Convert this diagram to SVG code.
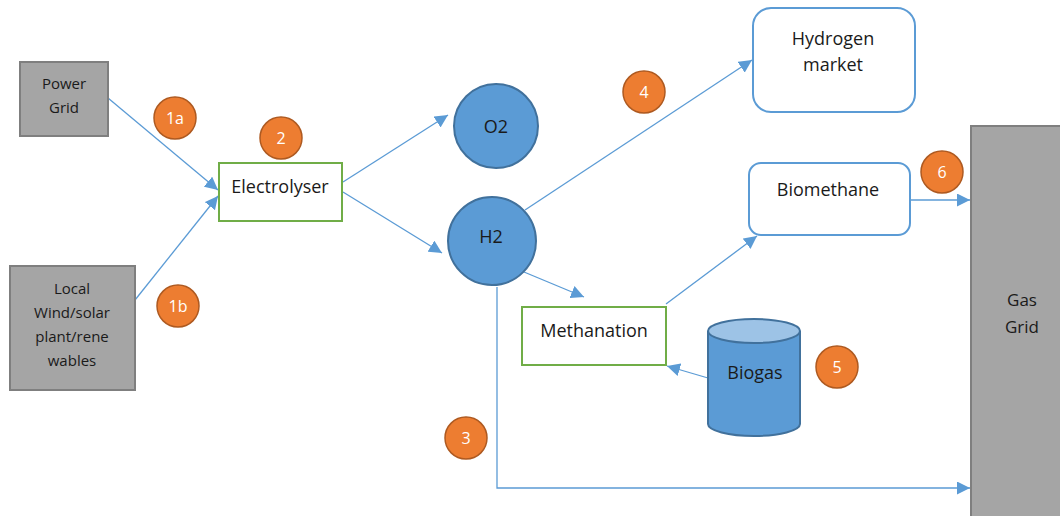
<svg xmlns="http://www.w3.org/2000/svg" width="1060" height="516" viewBox="0 0 1060 516">
<style>
text{font-family:"Open Sans","Liberation Sans",sans-serif;font-size:18px;fill:#1a1a1a;text-anchor:middle;dominant-baseline:central}
text.sm{font-size:15px}
.gray{fill:#A5A5A5;stroke:#7F7F7F;stroke-width:2}
.green{fill:#fff;stroke:#70AD47;stroke-width:2}
.blue{fill:#fff;stroke:#5B9BD5;stroke-width:2}
.ball{fill:#5B9BD5;stroke:#41719C;stroke-width:2}
.badge circle{fill:#ED7D31;stroke:#AE5A21;stroke-width:1.5}
.badge text{fill:#fff;font-size:16px}
.conn path{fill:none;stroke:#5B9BD5;stroke-width:1.3;marker-end:url(#ah)}
</style>
<defs>
<marker id="ah" viewBox="0 0 10 10" refX="10" refY="5" markerWidth="13" markerHeight="13" markerUnits="userSpaceOnUse" orient="auto">
<path d="M0,0 L10,5 L0,10 z" fill="#5B9BD5"/>
</marker>
</defs>
<rect width="1060" height="516" fill="#fff"/>
<g class="conn">
<path d="M108,98 L218,190"/>
<path d="M135,300 L218,196"/>
<path d="M343,182 L448,115"/>
<path d="M343,192 L442,253"/>
<path d="M525,210 L752,60"/>
<path d="M524,272 L584,297"/>
<path d="M666,304 L757,236"/>
<path d="M910,200 L970,200"/>
<path d="M708,378 L667,366"/>
<path d="M497,287 L497,488 L970,488"/>
</g>
<g id="power-grid"><rect class="gray" x="20" y="62" width="88" height="74"/><text class="sm" x="64" y="83">Power</text><text class="sm" x="64" y="107">Grid</text></g>
<g id="local"><rect class="gray" x="10" y="266" width="125" height="124"/><text class="sm" x="72" y="288">Local</text><text class="sm" x="72" y="312">Wind/solar</text><text class="sm" x="72" y="336">plant/rene</text><text class="sm" x="72" y="360">wables</text></g>
<g id="electrolyser"><rect class="green" x="219" y="163" width="123" height="58"/><text x="280" y="186">Electrolyser</text></g>
<g id="o2"><circle class="ball" cx="496" cy="126" r="42"/><text x="496" y="126">O2</text></g>
<g id="h2"><circle class="ball" cx="492" cy="241" r="44"/><text x="491" y="236">H2</text></g>
<g id="hydrogen-market"><rect class="blue" x="753" y="8" width="162" height="104" rx="18"/><text x="833" y="38">Hydrogen</text><text x="833" y="64">market</text></g>
<g id="biomethane"><rect class="blue" x="749" y="163" width="161" height="72" rx="12"/><text x="828" y="189">Biomethane</text></g>
<g id="methanation"><rect class="green" x="522" y="307" width="144" height="58"/><text x="594" y="330">Methanation</text></g>
<g id="biogas"><path class="ball" d="M708,331 L708,424 A46,12 0 0 0 800,424 L800,331"/><ellipse cx="754" cy="331" rx="46" ry="12" fill="#9DC3E6" stroke="#41719C" stroke-width="2"/><text x="755" y="372">Biogas</text></g>
<g id="gas-grid"><rect class="gray" x="971" y="126" width="95" height="400"/><text class="sm" x="1022" y="299" style="font-size:17px">Gas</text><text x="1022" y="326" style="font-size:17px">Grid</text></g>
<g class="badge" id="b1a"><circle cx="175" cy="118" r="21"/><text x="175" y="118">1a</text></g>
<g class="badge" id="b1b"><circle cx="178" cy="306" r="21"/><text x="178" y="306">1b</text></g>
<g class="badge" id="b2"><circle cx="281" cy="138" r="21"/><text x="281" y="138">2</text></g>
<g class="badge" id="b3"><circle cx="466" cy="438" r="21"/><text x="466" y="438">3</text></g>
<g class="badge" id="b4"><circle cx="644" cy="92" r="21"/><text x="644" y="92">4</text></g>
<g class="badge" id="b5"><circle cx="837" cy="367" r="21"/><text x="837" y="367">5</text></g>
<g class="badge" id="b6"><circle cx="942" cy="172" r="21"/><text x="942" y="172">6</text></g>
</svg>
